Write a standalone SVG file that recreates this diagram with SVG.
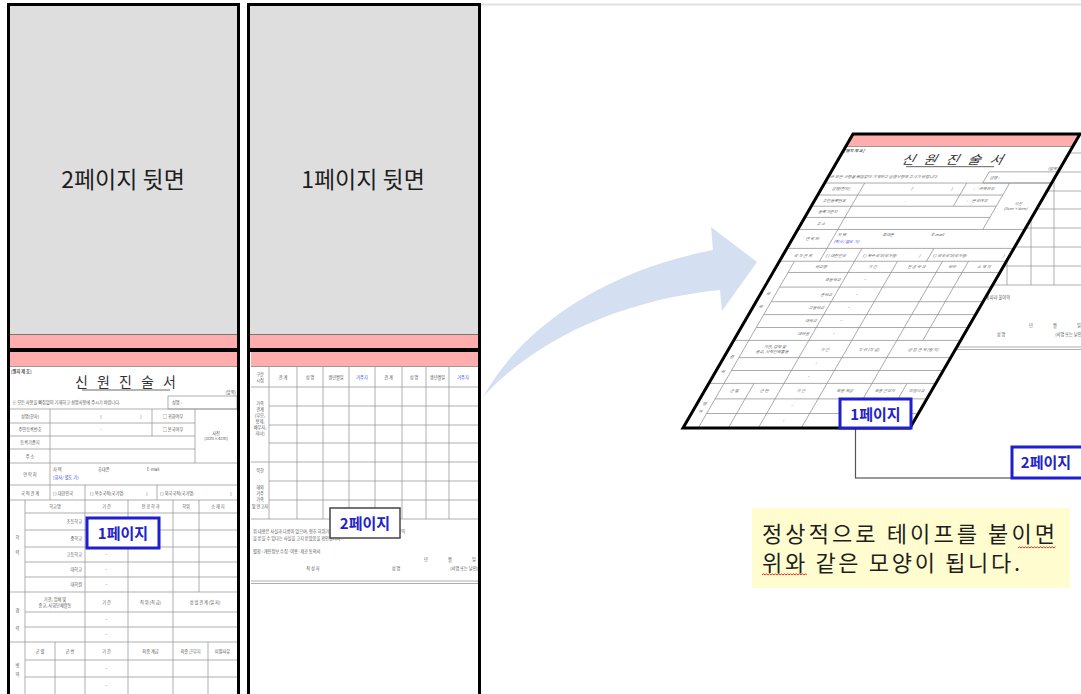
<svg xmlns="http://www.w3.org/2000/svg" xmlns:xlink="http://www.w3.org/1999/xlink" width="1081" height="694" viewBox="0 0 1081 694">
<style>
.pb{fill:none;stroke:#000;stroke-width:3}
.gray{fill:#dedede}
.pink{fill:#ffadad}
.g{fill:none;stroke:#8c8c8c;stroke-width:0.7}
.s{font-family:"Noto Sans CJK KR","Noto Sans",sans-serif;font-size:4.2px;fill:#555;text-anchor:middle}
.sl{text-anchor:start}
.se{text-anchor:end}
.blue{fill:#3344ee}
.big{font-family:"Noto Sans CJK KR","Noto Sans",sans-serif;font-size:23px;fill:#1e1e1e;text-anchor:middle}
.lbl{font-family:"Noto Sans CJK KR","Noto Sans",sans-serif;font-weight:bold;font-size:15px;fill:#2222c8;text-anchor:middle}
.note{font-family:"Noto Sans CJK KR","Noto Sans",sans-serif;font-size:22px;fill:#1e1e1e}
.title{font-family:"Noto Sans CJK KR","Noto Sans",sans-serif;font-size:14px;fill:#333;text-anchor:middle;letter-spacing:3px}
.bbox{fill:#fff;stroke:#1f1fd0;stroke-width:3}
.squig{fill:none;stroke:#d02020;stroke-width:0.9}
</style>
<defs>
<clipPath id="clipTop"><rect x="0" y="135" width="1081" height="559"/></clipPath>
<g id="form1">
<rect x="0" y="0" width="227" height="342" fill="#fff"/>
<rect class="pink" x="0" y="0" width="227" height="14"/>
<line x1="0" y1="14.5" x2="227" y2="14.5" stroke="#999" stroke-width="1"/>
<text class="s sl" x="1" y="21" font-weight="bold">[별지 제 호]</text>
<text class="title" x="117" y="35">신 원 진 술 서</text>
<line x1="72" y1="38" x2="160" y2="38" stroke="#444" stroke-width="0.8"/>
<text class="s se" x="226" y="42" font-size="3.6">(앞쪽)</text>
<text class="s sl" x="2" y="51.5">※ 모든 사항을 빠짐없이 기재하고 설명사항에 주시기 바랍니다.</text>
<rect x="158" y="44" width="69" height="13" class="g"/>
<text class="s sl" x="162" y="52">성명 :</text>
<path class="g" d="M0,57H227M0,71H185M0,84H185M0,97H185M0,111H227M0,133H227M0,148H227M40,57V148M142,57V84M185,57V111M75,133V148M147,133V148M15,161H227M15,178H227M15,195H227M15,210H227M15,225H227M0,240H227M15,148V342M75,148V342M118,148V342M163,148V342M189,148V240M45,290V342M198,290V342M15,260H227M15,275H227M0,290H227M15,308H227M15,325H227"/>
<text class="s" x="20" y="65.5">성명(한자)</text>
<text class="s" x="91" y="65.5">(</text><text class="s" x="131" y="65.5">)</text>
<text class="s" x="163" y="65.5">□ 귀화여부</text>
<text class="s" x="20" y="79">주민등록번호</text>
<text class="s" x="91" y="79">-</text>
<text class="s" x="163" y="79">□ 본국여부</text>
<text class="s" x="20" y="92">등록기준지</text>
<text class="s" x="20" y="105.5">주    소</text>
<text class="s" x="206" y="83">사진</text>
<text class="s" x="206" y="88" font-size="3.4">(3cm×4cm)</text>
<text class="s" x="20" y="123.5">연 락 처</text>
<text class="s sl" x="43" y="119">자 택</text>
<text class="s sl" x="88" y="119">휴대폰</text>
<text class="s sl" x="137" y="119">E-mail</text>
<text class="s sl blue" x="43" y="126.5">(회사/ 별도 기)</text>
<text class="s" x="20" y="142.5">국 적 관 계</text>
<text class="s sl" x="43" y="142.5">( ) 대한민국</text>
<text class="s sl" x="80" y="142.5">( ) 복수국적(국가명:</text>
<text class="s" x="137" y="142.5">)</text>
<text class="s sl" x="150" y="142.5">( ) 외국국적(국가명:</text>
<text class="s" x="221" y="142.5">)</text>
<text class="s" x="45" y="156">학교명</text>
<text class="s" x="96.5" y="156">기  간</text>
<text class="s" x="140.5" y="156">전 공 학 과</text>
<text class="s" x="176" y="156">학위</text>
<text class="s" x="208" y="156">소 재 지</text>
<text class="s se" x="72" y="171">초등학교</text>
<text class="s se" x="72" y="188">중학교</text>
<text class="s se" x="72" y="204">고등학교</text>
<text class="s se" x="72" y="219">대학교</text>
<text class="s se" x="72" y="234">대학원</text>
<text class="s" x="96.5" y="171">~</text>
<text class="s" x="96.5" y="188">~</text>
<text class="s" x="96.5" y="204">~</text>
<text class="s" x="96.5" y="219">~</text>
<text class="s" x="96.5" y="234">~</text>
<text class="s" x="7.5" y="187">학</text>
<text class="s" x="7.5" y="202">력</text>
<text class="s" x="45" y="249">기관, 업체 및</text>
<text class="s" x="45" y="254.5">종교, 사회단체활동</text>
<text class="s" x="96.5" y="252">기  간</text>
<text class="s" x="140.5" y="252">직 위 (직 급)</text>
<text class="s" x="195" y="252">상 벌 관 계 (일 자)</text>
<text class="s" x="96.5" y="269">~</text>
<text class="s" x="96.5" y="284">~</text>
<text class="s" x="7.5" y="260">경</text>
<text class="s" x="7.5" y="278">력</text>
<text class="s" x="30" y="300.5">군 별</text>
<text class="s" x="60" y="300.5">군 번</text>
<text class="s" x="96.5" y="300.5">기  간</text>
<text class="s" x="140.5" y="300.5">최종 계급</text>
<text class="s" x="180.5" y="300.5">최종 근무지</text>
<text class="s" x="212.5" y="300.5">미필사유</text>
<text class="s" x="96.5" y="318">~</text>
<text class="s" x="96.5" y="335">~</text>
<text class="s" x="7.5" y="315">병</text>
<text class="s" x="7.5" y="324">역</text>
</g>
<g id="form2">
<rect x="0" y="0" width="228" height="360" fill="#fff"/>
<rect class="pink" x="0" y="0" width="228" height="14"/>
<line x1="0" y1="14.5" x2="228" y2="14.5" stroke="#999" stroke-width="1"/>
<path class="g" d="M0,35H228M18,54H228M18,73H228M18,91H228M0,110H228M18,129H228M18,148H228M0,167H228M18,15V167M46,15V167M72,15V167M98,15V167M124,15V167M151,15V167M175,15V167M198,15V167"/>
<line x1="0" y1="229" x2="228" y2="229" stroke="#999" stroke-width="0.8"/>
<line x1="0" y1="231.5" x2="228" y2="231.5" stroke="#999" stroke-width="0.8"/>
<text class="s" x="9" y="24" font-size="3.8">구분</text>
<text class="s" x="9" y="29.5" font-size="3.8">시점</text>
<text class="s" x="32" y="27">관 계</text>
<text class="s" x="59" y="27">성 명</text>
<text class="s" x="85" y="27">생년월일</text>
<text class="s blue" x="111" y="27">거주지</text>
<text class="s" x="137.5" y="27">관 계</text>
<text class="s" x="163" y="27">성 명</text>
<text class="s" x="186.5" y="27">생년월일</text>
<text class="s blue" x="212" y="27">거주지</text>
<text class="s" x="9" y="53" font-size="3.6">가족</text>
<text class="s" x="9" y="59" font-size="3.6">관계</text>
<text class="s" x="9" y="65" font-size="3.6">(부모,</text>
<text class="s" x="9" y="71" font-size="3.6">형제,</text>
<text class="s" x="9" y="77" font-size="3.6">배우자,</text>
<text class="s" x="9" y="83" font-size="3.6">자녀)</text>
<text class="s" x="9" y="120" font-size="3.6">북한</text>
<text class="s" x="9" y="129" font-size="3.6">·</text>
<text class="s" x="9" y="137" font-size="3.6">해외</text>
<text class="s" x="9" y="143" font-size="3.6">거주</text>
<text class="s" x="9" y="149" font-size="3.6">가족</text>
<text class="s" x="9" y="156" font-size="3.6">및 연고자</text>
<text class="s sl" x="2" y="181">위 내용은 사실과 다름이 없으며, 향후 허위기재 내용이 있을 경우 관계 법령에 따라 불이익</text>
<text class="s sl" x="2" y="188">을 받을 수 있다는 사실을 고지 받았음을 확인합니다.</text>
<text class="s sl" x="2" y="201">별첨 : 개인정보 수집·이용·제공 동의서</text>
<text class="s" x="175" y="209">년</text>
<text class="s" x="199" y="209">월</text>
<text class="s" x="223" y="209">일</text>
<text class="s" x="62" y="218">작 성 자</text>
<text class="s" x="145" y="218">성 명</text>
<text class="s se" x="227" y="218">(서명 또는 날인)</text>
</g>
</defs>

<rect width="1081" height="694" fill="#fff"/>
<line x1="481" y1="4.5" x2="1081" y2="4.5" stroke="#e2e2e2" stroke-width="2"/>

<g id="panel-page2-back">
<rect class="gray" x="10" y="6" width="227" height="328"/>
<line x1="10" y1="334.5" x2="237" y2="334.5" stroke="#777" stroke-width="1"/>
<rect class="pink" x="10" y="335" width="227" height="13"/>
<use xlink:href="#form1" href="#form1" transform="translate(10,352)"/>
<line x1="10" y1="350" x2="237" y2="350" stroke="#000" stroke-width="4"/>
<text class="big" x="123" y="188">2페이지 뒷면</text>
<rect class="pb" x="8.5" y="4.5" width="230" height="700"/>
</g>

<g id="panel-page1-back">
<rect class="gray" x="250" y="6" width="228" height="328"/>
<line x1="250" y1="334.5" x2="478" y2="334.5" stroke="#777" stroke-width="1"/>
<rect class="pink" x="250" y="335" width="228" height="13"/>
<use xlink:href="#form2" href="#form2" transform="translate(251,352)"/>
<line x1="250" y1="350" x2="478" y2="350" stroke="#000" stroke-width="4"/>
<text class="big" x="363" y="188">1페이지 뒷면</text>
<rect class="pb" x="248.5" y="4.5" width="231" height="700"/>
</g>

<g id="label-page1-left">
<rect class="bbox" x="87" y="518" width="72" height="30"/>
<text class="lbl" x="123" y="539">1페이지</text>
</g>
<g id="label-page2-left">
<rect x="330" y="508" width="70" height="30" fill="#fff" stroke="#444" stroke-width="1.5"/>
<text class="lbl" x="365" y="529">2페이지</text>
</g>

<g id="connectors">
<path d="M483,397 C520,330 600,272 713,250 L711,227 L757,262 L722,311 L720,290 C620,300 535,340 483,397 Z" fill="#d4e0f1"/>
</g>

<g id="sheet-page2-right" clip-path="url(#clipTop)">
<use xlink:href="#form2" href="#form2" transform="translate(856,118)"/>
<rect x="855.5" y="118" width="240" height="360" fill="none" stroke="#555" stroke-width="1.2"/>
</g>

<g id="sheet-page1-right">
<g transform="translate(853,134) skewX(-30) scale(1,0.86)">
<use xlink:href="#form1" href="#form1"/>
</g>
<polygon points="853,134 1080,134 910,428 683,428" fill="none" stroke="#000" stroke-width="3" stroke-linejoin="miter"/>
</g>

<g id="label-page1-right">
<rect class="bbox" x="840" y="399" width="71" height="29"/>
<text class="lbl" x="875.5" y="419.5">1페이지</text>
</g>
<g id="label-page2-right">
<rect class="bbox" x="1012" y="447" width="80" height="31"/>
<text class="lbl" x="1046" y="468">2페이지</text>
</g>

<g id="note">
<rect x="752" y="508" width="318" height="80" fill="#fffdcf"/>
<text class="note" x="762" y="542" textLength="293" lengthAdjust="spacing">정상적으로 테이프를 붙이면</text>
<text class="note" x="762" y="571" textLength="258" lengthAdjust="spacing">위와 같은 모양이 됩니다.</text>
<path class="squig" d="M1018,548 l1.5,-1.2 l1.5,1.2 l1.5,-1.2 l1.5,1.2 l1.5,-1.2 l1.5,1.2 l1.5,-1.2 l1.5,1.2 l1.5,-1.2 l1.5,1.2 l1.5,-1.2 l1.5,1.2 l1.5,-1.2 l1.5,1.2 l1.5,-1.2 l1.5,1.2 l1.5,-1.2 l1.5,1.2 l1.5,-1.2 l1.5,1.2 l1.5,-1.2 l1.5,1.2 l1.5,-1.2 l1.5,1.2 l1.5,-1.2"/>
<path class="squig" d="M762,575 l1.5,-1.2 l1.5,1.2 l1.5,-1.2 l1.5,1.2 l1.5,-1.2 l1.5,1.2 l1.5,-1.2 l1.5,1.2 l1.5,-1.2 l1.5,1.2 l1.5,-1.2 l1.5,1.2 l1.5,-1.2 l1.5,1.2 l1.5,-1.2 l1.5,1.2 l1.5,-1.2 l1.5,1.2 l1.5,-1.2 l1.5,1.2 l1.5,-1.2 l1.5,1.2 l1.5,-1.2 l1.5,1.2 l1.5,-1.2 l1.5,1.2 l1.5,-1.2 l1.5,1.2 l1.5,-1.2 l1.5,1.2"/>
</g>
</svg>
